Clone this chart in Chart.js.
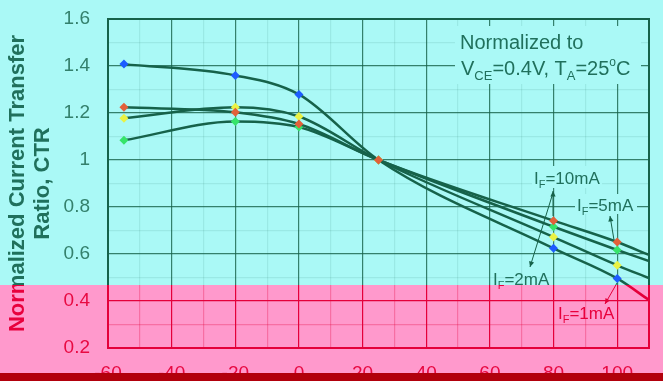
<!DOCTYPE html>
<html>
<head>
<meta charset="utf-8">
<script src="https://cdn.jsdelivr.net/npm/chart.js@4/dist/chart.umd.min.js"></script>
<style>
  html, body { margin: 0; padding: 0; background: #aaf9f6; }
  #wrap { position: relative; width: 663px; height: 381px; overflow: hidden; }
  #wrap canvas { position: absolute; left: 0; top: 0; }
  /* lower band is printed in the warm ink */
  #warm { clip-path: inset(285px 0 0 0); }
  #bar { position: absolute; left: 0; top: 373px; width: 663px; height: 8px; background: #b2000c; }
</style>
</head>
<body>
<div id="wrap">
  <canvas id="cool" width="663" height="381"></canvas>
  <canvas id="warm" width="663" height="381"></canvas>
  <div id="bar"></div>
</div>
<script>
// Ambient temperature (°C); the last entry is where each curve runs into the frame
const temps = [-55, -20, 0, 25, 80, 100, 110];

// Normalized CTR for each forward current
const ctr10mA = [1.224, 1.203, 1.153, 1.0, 0.742, 0.651, 0.596];
const ctr5mA  = [1.084, 1.164, 1.140, 1.0, 0.716, 0.617, 0.570];
const ctr2mA  = [1.178, 1.224, 1.185, 1.0, 0.672, 0.552, 0.497];
const ctr1mA  = [1.408, 1.360, 1.279, 1.0, 0.624, 0.496, 0.404];

// Axis ranges and labelled ticks
const xMin = -60, xMax = 110, xStep = 10;
const xTickLabels = [-60, -40, -20, 0, 20, 40, 60, 80, 100];
const yMin = 0.2, yMax = 1.6, yStep = 0.1;
const yTickLabels = ['0.2', '0.4', '0.6', '0.8', '1', '1.2', '1.4', '1.6'];

const markerColors = {
  ma10: '#e2603a',
  ma5: '#36e46a',
  ma2: '#e9f244',
  ma1: '#1d5cff'
};

const FONT = "'Liberation Sans', Arial, sans-serif";

const themes = {
  cool: {
    bg: '#aaf9f6',
    ink: 'rgb(22,98,74)',
    text: 'rgb(32,112,92)',
    tick: 'rgb(52,128,108)',
    major: 'rgba(22,98,74,0.8)',
    minor: 'rgba(22,98,74,0.10)'
  },
  warm: {
    bg: '#ff99cc',
    ink: 'rgb(228,0,58)',
    text: 'rgb(232,0,60)',
    tick: 'rgb(232,10,66)',
    major: 'rgb(228,0,58)',
    minor: 'rgba(228,0,58,0.28)'
  }
};

function arrowHead(ctx, x, y, fromX, fromY, size) {
  const a = Math.atan2(y - fromY, x - fromX);
  ctx.beginPath();
  ctx.moveTo(x, y);
  ctx.lineTo(x - size * Math.cos(a - 0.45), y - size * Math.sin(a - 0.45));
  ctx.lineTo(x - size * Math.cos(a + 0.45), y - size * Math.sin(a + 0.45));
  ctx.closePath();
  ctx.fill();
}

function arrow(ctx, x1, y1, x2, y2) {
  ctx.beginPath();
  ctx.moveTo(x1, y1);
  ctx.lineTo(x2, y2);
  ctx.stroke();
  arrowHead(ctx, x2, y2, x1, y1, 6);
}

// Writes a run of [text, size, dy] pieces left to right from (x, y)
function richText(ctx, x, y, parts) {
  ctx.textAlign = 'left';
  ctx.textBaseline = 'alphabetic';
  let cx = x;
  for (const [t, size, dy] of parts) {
    ctx.font = size + 'px ' + FONT;
    ctx.fillText(t, cx, y + dy);
    cx += ctx.measureText(t).width;
  }
  return cx - x;
}

function currentLabel(ctx, x, y, value) {
  return richText(ctx, x, y, [['I', 17, 0], ['F', 11, 4], ['=' + value + 'mA', 17, 0]]);
}

const inkPlugin = {
  id: 'ink',
  beforeDraw(chart, args, th) {
    const c = chart.ctx;
    c.save();
    c.fillStyle = th.bg;
    c.fillRect(0, 0, chart.width, chart.height);
    c.restore();
  },
  afterDatasetsDraw(chart, args, th) {
    const c = chart.ctx;
    const a = chart.chartArea;
    c.save();

    // plot frame
    c.strokeStyle = th.ink;
    c.lineWidth = 2;
    c.strokeRect(a.left, a.top, a.right - a.left, a.bottom - a.top);

    // note box in the upper right
    c.fillStyle = th.bg;
    c.fillRect(455, 26, 186, 58);
    c.fillStyle = th.text;
    richText(c, 460, 49, [['Normalized to', 20, 0]]);
    richText(c, 461, 75, [
      ['V', 20, 0], ['CE', 13, 5], ['=0.4V, T', 20, 0], ['A', 13, 5],
      ['=25', 20, 0], ['o', 12, -9], ['C', 20, 0]
    ]);

    // forward-current labels
    c.fillStyle = th.bg;
    c.fillRect(532, 166, 70, 22);
    c.fillRect(575, 194, 62, 20);
    c.fillStyle = th.text;
    currentLabel(c, 534, 184, '10');
    currentLabel(c, 577, 211, '5');
    currentLabel(c, 493, 285, '2');
    currentLabel(c, 558, 319, '1');

    // leader arrows
    c.strokeStyle = th.ink;
    c.fillStyle = th.ink;
    c.lineWidth = 1;
    arrow(c, 553, 216, 553, 191);
    arrow(c, 552, 196, 530, 267);
    arrow(c, 614, 240, 610, 216);
    arrow(c, 617, 283, 605, 304);

    // value axis title
    c.fillStyle = th.text;
    c.font = 'bold 22px ' + FONT;
    c.textAlign = 'center';
    c.textBaseline = 'alphabetic';
    const cy = (a.top + a.bottom) / 2;
    c.translate(24, cy);
    c.rotate(-Math.PI / 2);
    c.fillText('Normalized Current Transfer', 0, 0);
    c.fillText('Ratio, CTR', 0, 25);
    c.restore();
  }
};

function makeChart(id, th) {
  const series = (label, data, color) => ({
    label,
    data: temps.map((t, i) => ({ x: t, y: data[i] })),
    borderColor: th.ink,
    borderWidth: 2.5,
    cubicInterpolationMode: 'monotone',
    pointStyle: 'rectRot',
    pointRadius: temps.map(t => (t > 100 ? 0 : 4.5)),
    pointBackgroundColor: color,
    pointBorderWidth: 0,
    fill: false
  });

  return new Chart(document.getElementById(id), {
    type: 'line',
    data: {
      datasets: [
        series('IF=10mA', ctr10mA, markerColors.ma10),
        series('IF=2mA', ctr2mA, markerColors.ma2),
        series('IF=5mA', ctr5mA, markerColors.ma5),
        series('IF=1mA', ctr1mA, markerColors.ma1)
      ]
    },
    options: {
      responsive: false,
      animation: false,
      devicePixelRatio: 1,
      layout: { padding: { top: 19, right: 14, left: 0, bottom: 0 } },
      plugins: {
        legend: { display: false },
        tooltip: { enabled: false },
        ink: th
      },
      scales: {
        x: {
          type: 'linear',
          min: xMin,
          max: xMax,
          afterFit: s => { s.height = 33; },
          border: { display: false },
          grid: {
            drawTicks: false,
            lineWidth: 1.2,
            color: ctx => (Math.round(ctx.tick.value) % 20 === 0 ? th.major : th.minor)
          },
          ticks: {
            stepSize: xStep,
            autoSkip: false,
            maxRotation: 0,
            padding: 14,
            color: th.tick,
            font: { family: FONT, size: 19 },
            callback: v => (xTickLabels.includes(Math.round(v)) ? String(Math.round(v)) : '')
          }
        },
        y: {
          type: 'linear',
          min: yMin,
          max: yMax,
          // fixed axis band; end labels may overhang the frame
          afterFit: s => { s.width = 108; s.paddingTop = 0; s.paddingBottom = 0; },
          border: { display: false },
          grid: {
            drawTicks: false,
            lineWidth: 1.2,
            color: ctx => (Math.round(ctx.tick.value * 10) % 2 === 0 ? th.major : th.minor)
          },
          ticks: {
            stepSize: yStep,
            autoSkip: false,
            padding: 18,
            color: th.tick,
            font: { family: FONT, size: 19 },
            callback: v => {
              const k = Math.round(v * 10);
              if (k % 2 !== 0) return '';
              const s = String(k / 10);
              return yTickLabels.includes(s) ? s : '';
            }
          }
        }
      }
    },
    plugins: [inkPlugin]
  });
}

makeChart('cool', themes.cool);
makeChart('warm', themes.warm);
</script>
</body>
</html>
